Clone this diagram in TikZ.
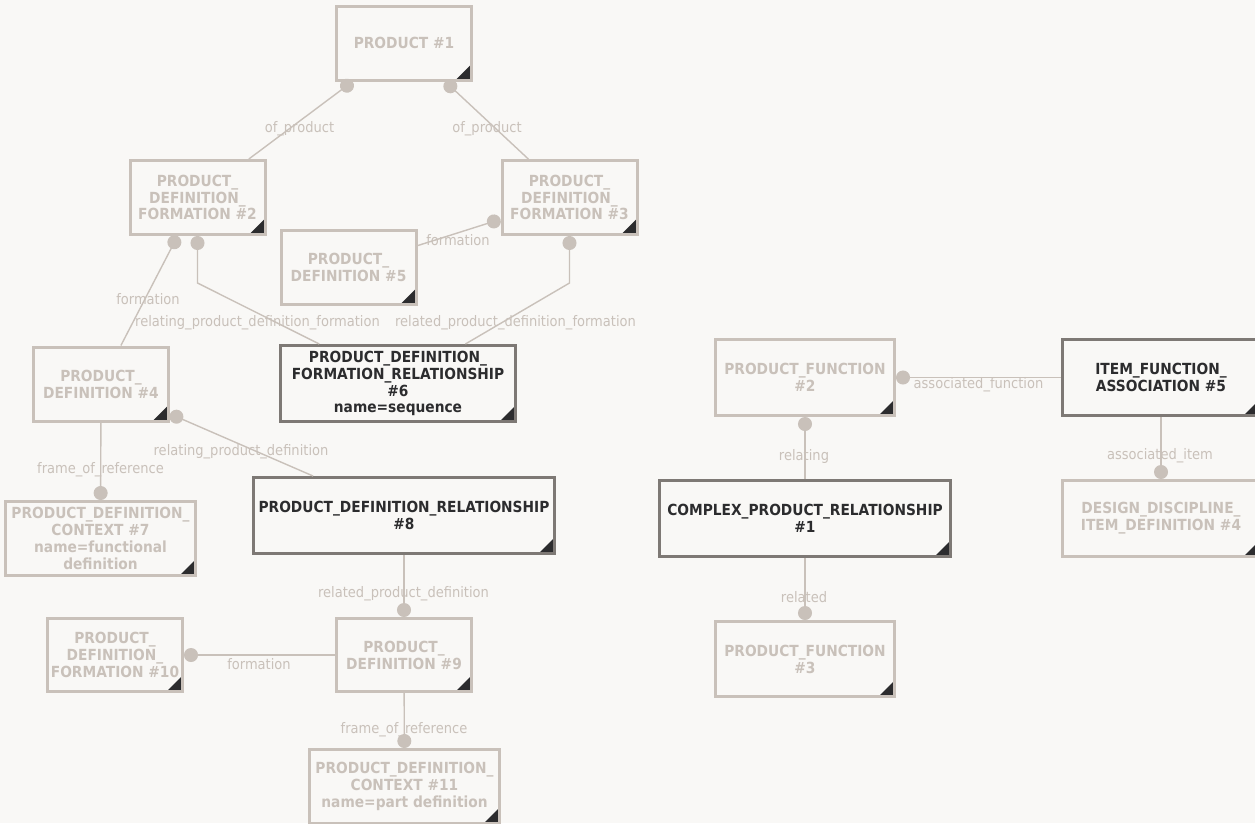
\documentclass[tikz,border=0pt]{standalone}
\usepackage{fontspec}
\setmainfont{DejaVu Sans}[FakeStretch=0.9]
\usetikzlibrary{arrows.meta}
\definecolor{paper}{RGB}{249,248,246}
\definecolor{lite}{RGB}{201,193,186}
\definecolor{darkline}{RGB}{126,121,117}
\definecolor{darktext}{RGB}{44,44,46}

\begin{document}
\begin{tikzpicture}[
  x=1pt, y=-1pt,
  box/.style={draw, line width=3pt, fill=paper, align=center, inner sep=2pt,
              font=\fontsize{15.3}{16.9}\selectfont\bfseries,
              minimum width=135pt, minimum height=74pt,
              path picture={\fill[darktext]
                ([xshift=-16pt]path picture bounding box.south east) --
                (path picture bounding box.south east) --
                ([yshift=16pt]path picture bounding box.south east) -- cycle;}},
  litebox/.style={box, draw=lite, text=lite},
  darkbox/.style={box, draw=darkline, text=darktext, minimum height=76pt},
  link/.style={draw=lite, line width=1.4pt, -{Circle[length=14pt, width=14pt]}},
  lbl/.style={text=lite, font=\fontsize{14.5}{16}\selectfont, inner sep=0pt}
]
\fill[paper] (0,0) rectangle (1255,823);
\useasboundingbox (0,0) rectangle (1255,823);

% left group
\node[litebox] (prod1) at (404,43) {PRODUCT \#1};
\node[litebox] (pdf2) at (197.5,197.5) {PRODUCT\_\\DEFINITION\_\\FORMATION \#2};
\node[litebox] (pdf3) at (569.5,197.5) {PRODUCT\_\\DEFINITION\_\\FORMATION \#3};
\node[litebox] (pd5) at (348.5,267.5) {PRODUCT\_\\DEFINITION \#5};
\node[litebox] (pd4) at (101,384) {PRODUCT\_\\DEFINITION \#4};
\node[darkbox, minimum width=235pt] (pdfr6) at (398,383.5)
  {PRODUCT\_DEFINITION\_\\FORMATION\_RELATIONSHIP\\\#6\\name=sequence};
\node[litebox, minimum width=190pt] (pdc7) at (100.5,538.5)
  {PRODUCT\_DEFINITION\_\\CONTEXT \#7\\name=functional\\definition};
\node[darkbox, minimum width=301pt] (pdr8) at (404,515.5) {PRODUCT\_DEFINITION\_RELATIONSHIP\\\#8};
\node[litebox, minimum height=73pt] (pd9) at (404,655) {PRODUCT\_\\DEFINITION \#9};
\node[litebox, minimum height=73pt] (pdf10) at (115,655) {PRODUCT\_\\DEFINITION\_\\FORMATION \#10};
\node[litebox, minimum width=190pt] (pdc11) at (404.5,786.5)
  {PRODUCT\_DEFINITION\_\\CONTEXT \#11\\name=part definition};

% right group
\node[litebox, minimum width=179pt, minimum height=76pt] (pf2) at (805,377.5) {PRODUCT\_FUNCTION\\\#2};
\node[darkbox, minimum width=291pt] (cpr1) at (805,518.5) {COMPLEX\_PRODUCT\_RELATIONSHIP\\\#1};
\node[litebox, minimum width=179pt, minimum height=75pt] (pf3) at (805,659) {PRODUCT\_FUNCTION\\\#3};
\node[darkbox, minimum width=197pt] (ifa5) at (1161,377.5) {ITEM\_FUNCTION\_\\ASSOCIATION \#5};
\node[litebox, minimum width=197pt, minimum height=76pt] (ddid4) at (1161,518.5)
  {DESIGN\_DISCIPLINE\_\\ITEM\_DEFINITION \#4};

\coordinate (bendL) at (197.5,283);
\coordinate (bendR) at (569.5,283);

\draw[link] (pdf2) -- (prod1);
\draw[link] (pdf3) -- (prod1);
\draw[link] (pd5) -- (pdf3);
\draw[link] (pd4) -- (pdf2);
\draw[link] (pdfr6) -- (bendL) -- (pdf2);
\draw[link] (pdfr6) -- (bendR) -- (pdf3);
\draw[link] (pd4) -- (pdc7);
\draw[link] (pdr8) -- (pd4);
\draw[link] (pdr8) -- (pd9);
\draw[link] (pd9) -- (pdf10);
\draw[link] (pd9) -- (pdc11);
\draw[link] (ifa5) -- (pf2);
\draw[link] (ifa5) -- (ddid4);
\draw[link] (cpr1) -- (pf2);
\draw[link] (cpr1) -- (pf3);

\node[lbl] (l1) at (299.5,129) {of\_product};
\node[lbl] (l2) at (487,129) {of\_product};
\node[lbl] (l3) at (458,240) {formation};
\node[lbl] (l4) at (148,299) {formation};
\node[lbl] (l5) at (257.5,323) {relating\_product\_definition\_formation};
\node[lbl] (l6) at (515.5,323) {related\_product\_definition\_formation};
\node[lbl] (l7) at (100.5,470) {frame\_of\_reference};
\node[lbl] (l8) at (241,452) {relating\_product\_definition};
\node[lbl] (l9) at (403.5,594) {related\_product\_definition};
\node[lbl] (l10) at (259,664) {formation};
\node[lbl] (l11) at (404,730) {frame\_of\_reference};
\node[lbl] (l12) at (978.5,385) {associated\_function};
\node[lbl] (l13) at (1160,456) {associated\_item};
\node[lbl] (l14) at (804,456) {relating};
\node[lbl] (l15) at (804,597) {related};
\end{tikzpicture}
\end{document}
